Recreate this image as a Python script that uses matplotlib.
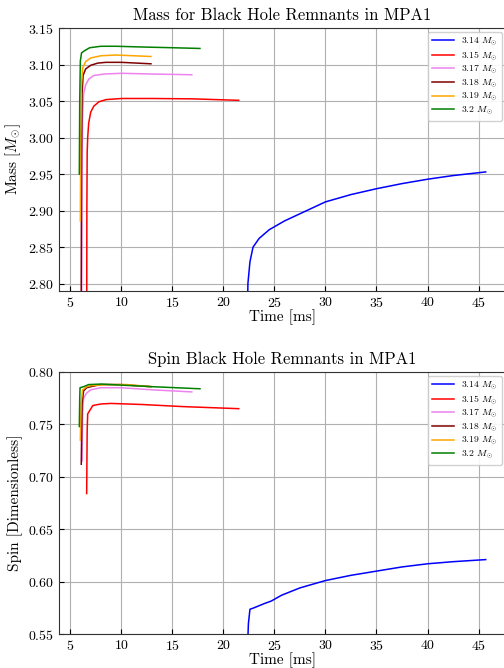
import numpy as np
import matplotlib
matplotlib.use("Agg")
import matplotlib.pyplot as plt

plt.rcParams['font.family'] = 'serif'
plt.rcParams['font.serif'] = ['cmr10']
plt.rcParams['mathtext.fontset'] = 'cm'
plt.rcParams['axes.formatter.use_mathtext'] = True
plt.rcParams['xtick.direction'] = 'in'
plt.rcParams['ytick.direction'] = 'in'

# remnant masses (solar masses) and line colours
labels = ["3.14", "3.15", "3.17", "3.18", "3.19", "3.2"]
colors = ["blue", "red", "violet", "maroon", "orange", "green"]

# mass of the black hole remnant vs time [ms]
t_mass = [
    [22.3, 22.4, 22.6, 22.9, 23.5, 24.5, 26.0, 28.0, 30.0, 32.5, 35.0, 37.5, 40.0, 42.5, 45.7],
    [6.6, 6.62, 6.65, 6.7, 6.8, 7.0, 7.3, 7.8, 8.5, 10.0, 13.0, 17.0, 21.5],
    [6.1, 6.15, 6.2, 6.3, 6.5, 6.8, 7.3, 8.3, 10.0, 13.0, 16.9],
    [6.05, 6.1, 6.15, 6.25, 6.5, 7.0, 7.7, 8.5, 10.0, 12.9],
    [5.98, 6.02, 6.08, 6.2, 6.5, 7.0, 8.0, 9.5, 12.9],
    [5.88, 5.92, 5.98, 6.1, 6.4, 6.9, 8.0, 9.5, 12.0, 15.0, 17.7],
]
mass = [
    [2.70, 2.80, 2.83, 2.850, 2.862, 2.874, 2.886, 2.899, 2.912, 2.922, 2.930, 2.937, 2.943, 2.948, 2.953],
    [2.70, 2.90, 2.98, 3.00, 3.02, 3.035, 3.043, 3.049, 3.052, 3.0535, 3.0535, 3.053, 3.051],
    [2.70, 2.95, 3.03, 3.06, 3.072, 3.080, 3.085, 3.087, 3.088, 3.087, 3.086],
    [2.70, 2.98, 3.06, 3.085, 3.094, 3.099, 3.102, 3.103, 3.103, 3.101],
    [2.886, 3.00, 3.07, 3.095, 3.104, 3.109, 3.112, 3.113, 3.111],
    [2.950, 3.05, 3.105, 3.116, 3.119, 3.123, 3.125, 3.125, 3.124, 3.123, 3.122],
]

# dimensionless spin of the remnant vs time [ms]
t_spin = [
    [22.3, 22.45, 22.6, 23.0, 24.0, 24.7, 25.7, 27.5, 30.0, 32.5, 35.0, 37.5, 40.0, 42.5, 45.7],
    [6.6, 6.65, 6.7, 7.2, 8.0, 9.0, 12.0, 16.0, 21.5],
    [6.15, 6.2, 6.3, 6.6, 7.0, 8.0, 10.0, 13.0, 16.9],
    [6.07, 6.15, 6.3, 6.6, 7.0, 8.0, 10.0, 12.9],
    [5.98, 6.05, 6.2, 6.6, 7.0, 8.5, 10.5, 12.9],
    [5.88, 5.92, 5.95, 6.3, 6.8, 8.0, 10.0, 13.0, 17.7],
]
spin = [
    [0.52, 0.56, 0.5736, 0.575, 0.579, 0.5815, 0.587, 0.594, 0.601, 0.606, 0.610, 0.614, 0.617, 0.619, 0.621],
    [0.684, 0.745, 0.760, 0.768, 0.7695, 0.770, 0.769, 0.767, 0.765],
    [0.715, 0.760, 0.775, 0.780, 0.783, 0.785, 0.785, 0.783, 0.781],
    [0.712, 0.770, 0.782, 0.785, 0.786, 0.788, 0.788, 0.786],
    [0.735, 0.770, 0.783, 0.786, 0.787, 0.788, 0.788, 0.786],
    [0.748, 0.775, 0.785, 0.786, 0.788, 0.7885, 0.7875, 0.786, 0.784],
]


def draw(ax, tt, yy, title, ylabel, ylim, yticks):
    for t, y, lab, c in zip(tt, yy, labels, colors):
        ax.plot(t, y, color=c, lw=1.1, label=lab + r" $M_{\odot}$")
    ax.set_ylim(*ylim)
    ax.set_yticks(yticks)
    ax.set_xticks(np.arange(5, 50, 5))
    ax.grid(True, color="#b0b0b0", lw=0.8)
    for s in ax.spines.values():
        s.set_color("#333333")
    ax.set_title(title, fontsize=12)
    ax.set_xlabel("Time [ms]", fontsize=11, labelpad=0)
    ax.set_ylabel(ylabel, fontsize=11)
    ax.tick_params(labelsize=10)
    ax.legend(loc="upper right", fontsize=7, framealpha=0.9,
              handlelength=2.2, labelspacing=0.15, borderaxespad=0.4)


fig = plt.figure(figsize=(5.04, 6.68), dpi=100)
ax1 = fig.add_axes([59 / 504, 1 - 291 / 668, 447 / 504, 263 / 668])
ax2 = fig.add_axes([59 / 504, 1 - 634 / 668, 447 / 504, 262 / 668])

draw(ax1, t_mass, mass, "Mass for Black Hole Remnants in MPA1",
     r"Mass [$M_{\odot}$]", (2.79, 3.15), np.arange(2.80, 3.151, 0.05))
draw(ax2, t_spin, spin, "Spin Black Hole Remnants in MPA1",
     "Spin [Dimensionless]", (0.55, 0.80), np.arange(0.55, 0.801, 0.05))

fig.savefig("out.png", dpi=100)
